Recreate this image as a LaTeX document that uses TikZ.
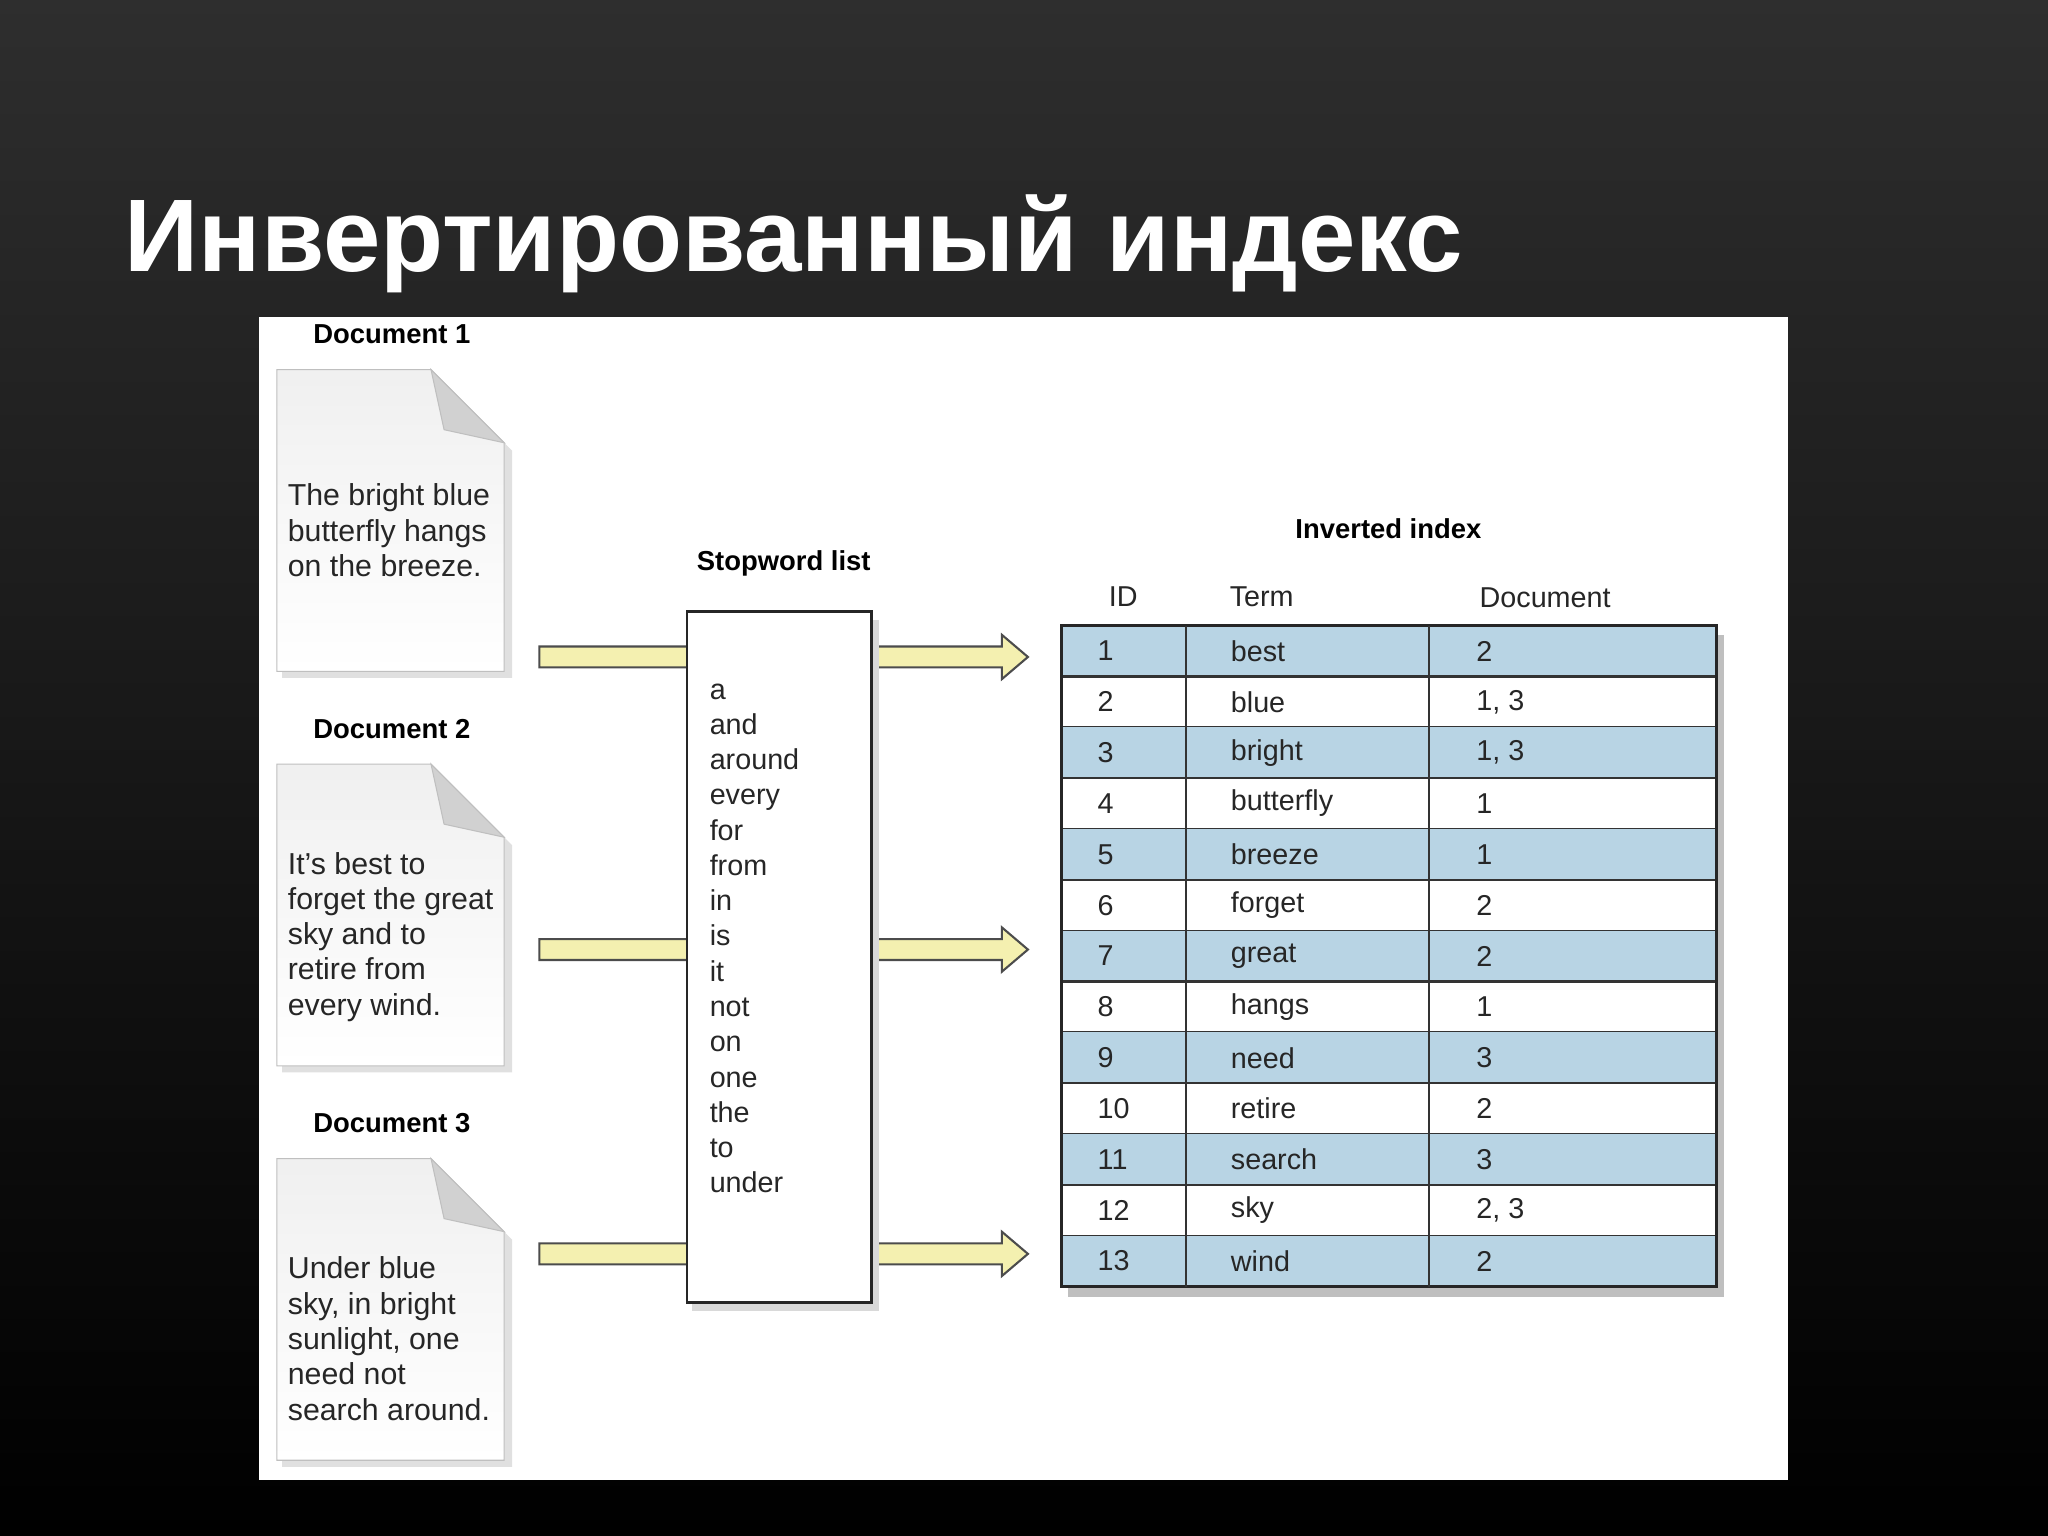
\documentclass[tikz,border=0pt]{standalone}
\usepackage{fontspec}
\setmainfont{Liberation Sans}
\begin{document}
\begin{tikzpicture}[x=0.5pt,y=-0.5pt,
  lbl/.style={font=\fontsize{10.5}{12}\selectfont\bfseries,inner sep=0pt},
  txt/.style={font=\fontsize{11}{13.5}\selectfont,inner sep=0pt,color=black!85},
  dtxt/.style={font=\fontsize{11.6}{13.5}\selectfont,inner sep=0pt,color=black!85},
  arrowfill/.style={fill=yellow!20!white!90!olive,draw=black!70,line width=0.8pt}]
\shade[top color=black!82,bottom color=black] (0,0) rectangle (1568,1176);
\useasboundingbox (0,0) rectangle (1568,1176);
\node[anchor=base west,text=white,font=\fontsize{39.5}{40}\selectfont\bfseries,inner sep=0pt] (title) at (95,208) {Инвертированный индекс};
\fill[white] (198,243) rectangle (1369,1133);
% documents
\foreach \n/\y/\lab in {1/283/Document 1,2/585/Document 2,3/887/Document 3}{
  \node[lbl] (dl\n) at (300,\y-27) {\lab};
  \fill[black!12] (216,\y+4) -- (334,\y+4) -- (392,\y+62) -- (392,\y+236) -- (216,\y+236) -- cycle;
  \shade[top color=black!6,bottom color=white,draw=black!25] (212,\y) -- (330,\y) -- (386,\y+56) -- (386,\y+231) -- (212,\y+231) -- cycle;
  \fill[black!18,draw=black!25] (330,\y) -- (386,\y+56) -- (340,\y+46) -- cycle;
}
\node[dtxt,anchor=north west,align=left] (d1) at (220,370) {The bright blue\\butterfly hangs\\on the breeze.};
\node[dtxt,anchor=north west,align=left] (d2) at (220,652) {It's best to\\forget the great\\sky and to\\retire from\\every wind.};
\node[dtxt,anchor=north west,align=left] (d3) at (220,962) {Under blue\\sky, in bright\\sunlight, one\\need not\\search around.};
% arrows
\foreach \y in {503,727,960}{
  \draw[arrowfill] (413,\y-8) -- (767,\y-8) -- (767,\y-17) -- (787,\y) -- (767,\y+17) -- (767,\y+8) -- (413,\y+8) -- cycle;
}
% stopword box
\fill[black!15] (530,475) rectangle (673,1004);
\node[draw=black!85,line width=1pt,fill=white,minimum width=70.5pt,minimum height=264.5pt,anchor=north west,inner sep=0pt] (stop) at (525,467) {};
\node[lbl] (stitle) at (600,431) {Stopword list};
\node[txt,anchor=north west,align=left] (words) at (543,523)
 {a\\and\\around\\every\\for\\from\\in\\is\\it\\not\\on\\one\\the\\to\\under};
% inverted index
\node[lbl] (ititle) at (1063,405) {Inverted index};
\node[txt] (hid) at (860,457) {ID};
\node[txt] (hterm) at (966,457) {Term};
\node[txt] (hdoc) at (1183,458) {Document};
\fill[black!25] (818,486) rectangle (1320,993);
\fill[white] (813,479) rectangle (1314,985);
\foreach \i/\t/\d in {1/best/2,2/blue/{1, 3},3/bright/{1, 3},4/butterfly/1,5/breeze/1,6/forget/2,7/great/2,8/hangs/1,9/need/3,10/retire/2,11/search/3,12/sky/{2, 3},13/wind/2}{
  \pgfmathsetmacro\ya{479+(\i-1)*38.92}
  \pgfmathsetmacro\yb{479+\i*38.92}
  \pgfmathsetmacro\yc{479+(\i-0.5)*38.92}
  \ifodd\i \fill[fill={rgb,255:red,184;green,212;blue,228}] (813,\ya) rectangle (1314,\yb); \fi
  \draw[black!80,line width=0.8pt] (813,\yb) -- (1314,\yb);
  \node[txt,anchor=west] (id\i) at (840,\yc) {\i};
  \node[txt,anchor=west] (t\i) at (942,\yc) {\t};
  \node[txt,anchor=west] (dd\i) at (1130,\yc) {\d};
}
\draw[black!85,line width=1.2pt] (813,479) rectangle (1314,985);
\draw[black!80,line width=0.8pt] (908,479) -- (908,985) (1094,479) -- (1094,985);
\end{tikzpicture}
\end{document}
